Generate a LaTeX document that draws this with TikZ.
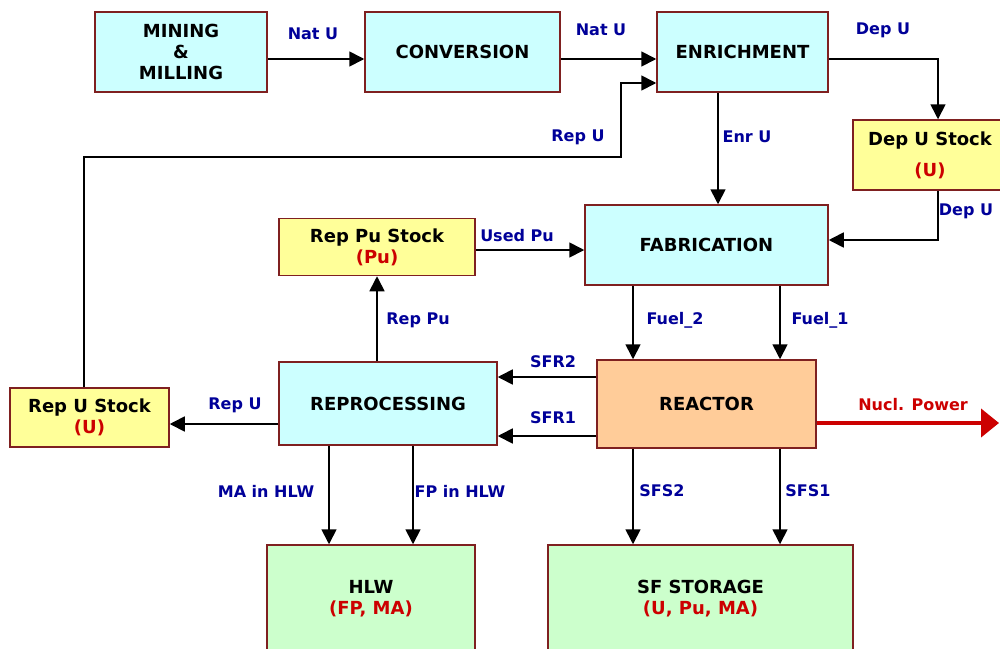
\documentclass[tikz,border=0pt]{standalone}
\usepackage{fontspec}
\setmainfont{DejaVu Sans}
\usetikzlibrary{arrows.meta}
\definecolor{procfill}{HTML}{CCFFFF}
\definecolor{stockfill}{HTML}{FFFF99}
\definecolor{reacfill}{HTML}{FFCC99}
\definecolor{storefill}{HTML}{CCFFCC}
\definecolor{edgered}{HTML}{7F2020}
\definecolor{lblblue}{HTML}{000099}
\definecolor{powred}{HTML}{CC0000}
\tikzset{
  box/.style={draw=edgered, line width=1.5pt, inner sep=0pt, align=center,
    font=\fontsize{18}{21}\bfseries\selectfont},
  proc/.style={box, fill=procfill},
  stock/.style={box, fill=stockfill},
  reac/.style={box, fill=reacfill},
  store/.style={box, fill=storefill},
  flow/.style={line width=1.7pt, -{Triangle[length=15pt,width=15pt]}},
  lbl/.style={text=lblblue, font=\fontsize{16}{18}\bfseries\selectfont},
}
\newcommand{\red}[1]{\textcolor{powred}{#1}}
\begin{document}
\begin{tikzpicture}[x=1pt, y=-1pt]
            \useasboundingbox[fill=white] (0,0) rectangle (1000,648);
            % boxes
            \node[proc, minimum width=172pt, minimum height=80pt] (mine) at (181,52) {MINING\\\&\\MILLING};
            \node[proc, minimum width=195pt, minimum height=80pt] (conv) at (462.5,52) {CONVERSION};
            \node[proc, minimum width=171pt, minimum height=80pt] (enr) at (742.5,52) {ENRICHMENT};
            \node[stock, minimum width=154pt, minimum height=70pt] (depst) at (930,155) {Dep U Stock\\[10pt]\red{(U)}};
            \node[proc, minimum width=243pt, minimum height=80pt] (fab) at (706.5,245) {FABRICATION};
            \node[stock, minimum width=196pt, minimum height=57pt] (pust) at (377,247) {Rep Pu Stock\\\red{(Pu)}};
            \node[proc, minimum width=218pt, minimum height=83pt] (repro) at (388,403.5) {REPROCESSING};
            \node[stock, minimum width=159pt, minimum height=59pt] (ust) at (89.5,417.5) {Rep U Stock\\\red{(U)}};
            \node[reac, minimum width=219pt, minimum height=88pt] (reac) at (706.5,404) {REACTOR};
            \node[store, minimum width=208pt, minimum height=107pt] (hlw) at (371,598.5) {HLW\\\red{(FP, MA)}};
            \node[store, minimum width=305pt, minimum height=107pt] (sfs) at (700.5,598.5) {SF STORAGE\\\red{(U, Pu, MA)}};
            \coordinate (repu) at (621,157);
            \coordinate (grid) at (999,423);
            % flows
            \draw[flow] ([yshift=-7pt]mine.east) -- ([yshift=-7pt]conv.west);
            \draw[flow] ([yshift=-7pt]conv.east) -- ([yshift=-7pt]enr.west);
            \draw[flow] ([yshift=-7pt]enr.east) -| ([xshift=8pt]depst.north);
            \draw[flow] ([xshift=-5.5pt]ust.north) |- (repu) |- ([yshift=-31pt]enr.west);
            \draw[flow] ([xshift=-24.5pt]enr.south) coordinate (e1) -- (e1 |- fab.north);
            \draw[flow] ([xshift=8pt]depst.south) |- ([yshift=5pt]fab.east);
            \draw[flow] ([yshift=-3pt]pust.east) coordinate (u1) -- (u1 -| fab.west);
            \draw[flow] ([xshift=-11pt]repro.north) coordinate (r1) -- (r1 |- pust.south);
            \draw[flow] ([xshift=-73.5pt]fab.south) coordinate (f2) -- (f2 |- reac.north);
            \draw[flow] ([xshift=73.5pt]fab.south) coordinate (f1) -- (f1 |- reac.north);
            \draw[flow] ([yshift=27pt]reac.west) coordinate (s2) -- (s2 -| repro.east);
            \draw[flow] ([yshift=-32pt]reac.west) coordinate (s1) -- (s1 -| repro.east);
            \draw[flow] ([yshift=-20.5pt]repro.west) coordinate (u2) -- (u2 -| ust.east);
            \draw[flow] ([xshift=-59pt]repro.south) coordinate (m1) -- (m1 |- hlw.north);
            \draw[flow] ([xshift=25pt]repro.south) coordinate (p1) -- (p1 |- hlw.north);
            \draw[flow] ([xshift=-73.5pt]reac.south) coordinate (g2) -- (g2 |- sfs.north);
            \draw[flow] ([xshift=73.5pt]reac.south) coordinate (g1) -- (g1 |- sfs.north);
            \draw[powred, line width=4pt, -{Triangle[length=18pt,width=28pt]}] ([yshift=-19pt]reac.east) -- (grid);
            % labels
            \node[lbl] (lnat1) at (313,34) {Nat U};
            \node[lbl] (lnat2) at (601,30) {Nat U};
            \node[lbl] (ldep1) at (883,30) {Dep U};
            \node[lbl] (lrepu1) at (578,137) {Rep U};
            \node[lbl] (lenr) at (747,137) {Enr U};
            \node[lbl] (ldep2) at (966,211) {Dep U};
            \node[lbl] (lused) at (517,236) {Used Pu};
            \node[lbl] (lreppu) at (418,320) {Rep Pu};
            \node[lbl] (lfuel2) at (675,320) {Fuel\_2};
            \node[lbl] (lfuel1) at (820,320) {Fuel\_1};
            \node[lbl] (lsfr2) at (553,362) {SFR2};
            \node[lbl] (lsfr1) at (553,418) {SFR1};
            \node[lbl] (lrepu2) at (235,405) {Rep U};
            \node[lbl, text=powred] (lpow) at (913,405) {Nucl. Power};
            \node[lbl] (lma) at (266,491) {MA in HLW};
            \node[lbl] (lfp) at (460,491) {FP in HLW};
            \node[lbl] (lsfs2) at (662,491) {SFS2};
            \node[lbl] (lsfs1) at (808,491) {SFS1};
\end{tikzpicture}
\end{document}
